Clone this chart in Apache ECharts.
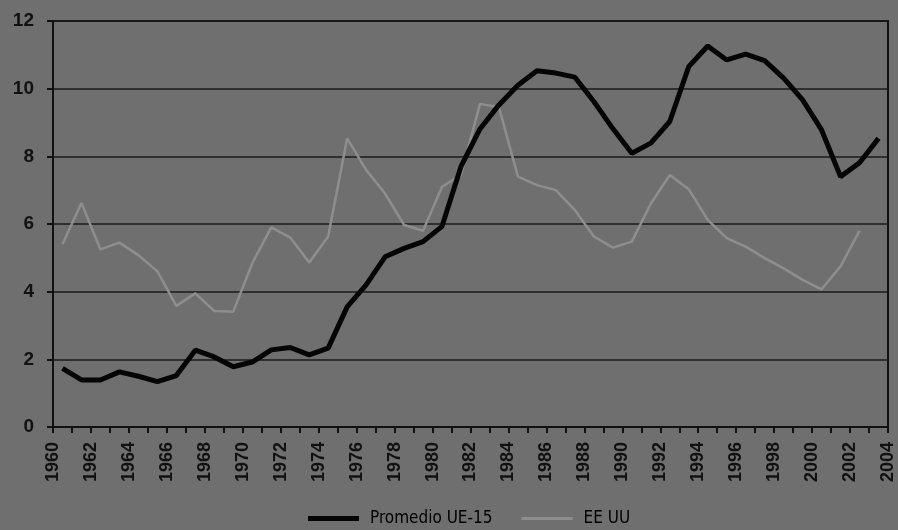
<!DOCTYPE html>
<html>
<head>
<meta charset="utf-8">
<script src="https://cdn.jsdelivr.net/npm/echarts@6/dist/echarts.min.js"></script>
<style>
  html, body { margin: 0; padding: 0; background: #6f6f6f; }
  #chart { width: 898px; height: 530px; }
</style>
</head>
<body>
<div id="chart"></div>
<script>
// Data
// ------------------------------

var years = [
    1960, 1961, 1962, 1963, 1964, 1965, 1966, 1967, 1968, 1969,
    1970, 1971, 1972, 1973, 1974, 1975, 1976, 1977, 1978, 1979,
    1980, 1981, 1982, 1983, 1984, 1985, 1986, 1987, 1988, 1989,
    1990, 1991, 1992, 1993, 1994, 1995, 1996, 1997, 1998, 1999,
    2000, 2001, 2002, 2003
];

// Promedio UE-15
var ue15 = [
    1.73, 1.39, 1.39, 1.63, 1.50, 1.34, 1.52, 2.27, 2.07, 1.78,
    1.92, 2.28, 2.35, 2.13, 2.33, 3.55, 4.20, 5.03, 5.28, 5.48,
    5.93, 7.70, 8.81, 9.52, 10.10, 10.53, 10.46, 10.34, 9.62, 8.82,
    8.09, 8.39, 9.03, 10.65, 11.26, 10.85, 11.02, 10.83, 10.31, 9.67,
    8.78, 7.40, 7.81, 8.53
];

// EE UU (ends in 2002)
var eeuu = [
    5.40, 6.62, 5.25, 5.45, 5.08, 4.60, 3.58, 3.95, 3.43, 3.41,
    4.84, 5.90, 5.60, 4.86, 5.63, 8.53, 7.60, 6.90, 5.97, 5.80,
    7.10, 7.45, 9.55, 9.45, 7.40, 7.15, 7.00, 6.41, 5.63, 5.30,
    5.48, 6.60, 7.45, 7.03, 6.12, 5.58, 5.33, 4.99, 4.69, 4.35,
    4.07, 4.75, 5.80
];

var seriesNames = ['Promedio UE-15', 'EE UU'];

var AXIS_FONT = '"Liberation Sans", Arial, sans-serif';
var LEGEND_FONT = '"Liberation Sans Narrow", "DejaVu Sans Condensed", sans-serif';

// Each yearly value sits in the middle of its year interval
var toPoints = function(values) {
    return values.map(function(v, i) {
        return [years[i] + 0.5, v];
    });
};

// Chart
// ------------------------------

var chart = echarts.init(document.getElementById('chart'));

chart.setOption({
    backgroundColor: '#6f6f6f',
    animation: false,
    textStyle: {
        fontFamily: AXIS_FONT,
        color: '#000'
    },
    grid: {
        left: 53,
        right: 10,
        top: 21,
        bottom: 103,
        show: true,
        borderColor: '#111',
        borderWidth: 2,
        backgroundColor: 'transparent'
    },
    legend: {
        left: 303,
        top: 505,
        itemWidth: 51,
        itemHeight: 18,
        itemGap: 29,
        symbolKeepAspect: true,
        data: [{
            name: seriesNames[0],
            icon: 'path://M0,0 L51,0 L51,5 L0,5 Z',
            itemStyle: { color: '#050505' }
        }, {
            name: seriesNames[1],
            icon: 'path://M0,0 L51,0 L51,3 L0,3 Z',
            itemStyle: { color: '#8e8e8e' }
        }],
        textStyle: {
            fontFamily: LEGEND_FONT,
            fontSize: 17,
            fontWeight: 500,
            color: '#000',
            padding: [0, 0, 0, 6]
        }
    },
    xAxis: {
        type: 'value',
        min: 1960,
        max: 2004,
        interval: 2,
        axisLine: { lineStyle: { color: '#111', width: 2 } },
        axisTick: { show: true, length: 6, lineStyle: { color: '#111', width: 2 } },
        minorTick: { show: true, splitNumber: 2, length: 6, lineStyle: { color: '#111', width: 2 } },
        splitLine: { show: false },
        axisLabel: {
            rotate: 90,
            margin: 15,
            fontSize: 18,
            fontWeight: 'bold',
            fontFamily: AXIS_FONT,
            color: '#111',
            formatter: function(v) { return String(v); }
        }
    },
    yAxis: {
        type: 'value',
        min: 0,
        max: 12,
        interval: 2,
        axisLine: { show: true, lineStyle: { color: '#111', width: 2 } },
        axisTick: { show: true, length: 6, lineStyle: { color: '#111', width: 2 } },
        splitLine: { lineStyle: { color: '#1a1a1a', width: 1.5 } },
        axisLabel: {
            margin: 19,
            fontSize: 19,
            fontWeight: 'bold',
            fontFamily: AXIS_FONT,
            color: '#111'
        }
    },
    series: [{
        name: seriesNames[0],
        type: 'line',
        symbol: 'none',
        data: toPoints(ue15),
        lineStyle: { color: '#050505', width: 5 },
        itemStyle: { color: '#050505' },
        z: 3
    }, {
        name: seriesNames[1],
        type: 'line',
        symbol: 'none',
        data: toPoints(eeuu),
        lineStyle: { color: '#8e8e8e', width: 2.5 },
        itemStyle: { color: '#8e8e8e' },
        z: 2
    }]
});
</script>
</body>
</html>
